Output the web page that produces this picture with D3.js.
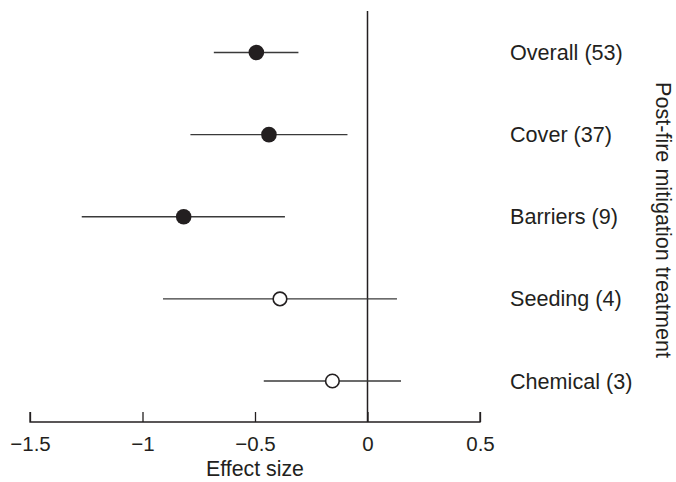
<!DOCTYPE html>
<html>
<head>
<meta charset="utf-8">
<script src="https://cdn.jsdelivr.net/npm/d3@7"></script>
<style>
  body { margin: 0; background: #fff; }
  text { font-family: "Liberation Sans", Arial, sans-serif; fill: #231f20; }
</style>
</head>
<body>
<svg id="chart" width="676" height="482"></svg>
<script>
// treatment groups, top to bottom
var labels = ['Overall (53)', 'Cover (37)', 'Barriers (9)', 'Seeding (4)', 'Chemical (3)'];
var effect = [-0.494, -0.438, -0.817, -0.389, -0.156];
var ciLow  = [-0.683, -0.787, -1.270, -0.909, -0.461];
var ciHigh = [-0.307, -0.089, -0.367, 0.131, 0.149];
var significant = [true, true, true, false, false];
var xTicks = [-1.5, -1, -0.5, 0, 0.5];

var svg = d3.select('#chart');

var x = d3.scaleLinear().domain([-1.5, 0.5]).range([30, 480]);
var y = d3.scalePoint().domain(labels).range([52.5, 381]);
var axisY = 422;

var rows = labels.map(function(l, i) {
    return {label: l, est: effect[i], lo: ciLow[i], hi: ciHigh[i], sig: significant[i]};
});

// zero reference line
svg.append('line')
    .attr('x1', x(0)).attr('x2', x(0))
    .attr('y1', 11).attr('y2', axisY)
    .attr('stroke', '#231f20').attr('stroke-width', 1.5);

// x axis, ticks pointing up
var axis = svg.append('g')
    .attr('transform', 'translate(0,' + axisY + ')')
    .call(d3.axisBottom(x).tickValues(xTicks).tickSize(-10).tickPadding(14)
        .tickFormat(function(d) { return d3.format('')(d).replace('-', '\u2212'); }));
axis.select('.domain').attr('d', 'M' + x(-1.5) + ',-10V0H' + x(0.5) + 'V-10')
    .attr('stroke', '#231f20').attr('stroke-width', 1.3);
axis.selectAll('.tick line').attr('stroke', '#231f20').attr('stroke-width', 1.3);
axis.selectAll('.tick text')
    .style('font-size', '20.5px')
    .style('font-family', '"Liberation Sans", Arial, sans-serif')
    .attr('fill', '#231f20');

svg.append('text')
    .attr('x', x(-0.5)).attr('y', 476)
    .attr('text-anchor', 'middle')
    .style('font-size', '21.3px')
    .text('Effect size');

// confidence intervals
svg.selectAll('line.ci').data(rows).enter().append('line')
    .attr('class', 'ci')
    .attr('x1', function(d) { return x(d.lo); })
    .attr('x2', function(d) { return x(d.hi); })
    .attr('y1', function(d) { return y(d.label); })
    .attr('y2', function(d) { return y(d.label); })
    .attr('stroke', '#3a3a3a').attr('stroke-width', 1.3);

// point estimates
svg.selectAll('circle.est').data(rows).enter().append('circle')
    .attr('class', 'est')
    .attr('cx', function(d) { return x(d.est); })
    .attr('cy', function(d) { return y(d.label); })
    .attr('r', function(d) { return d.sig ? 7.8 : 6.8; })
    .attr('fill', function(d) { return d.sig ? '#231f20' : '#fff'; })
    .attr('stroke', '#231f20')
    .attr('stroke-width', function(d) { return d.sig ? 0 : 1.6; });

// group labels
svg.selectAll('text.grp').data(rows).enter().append('text')
    .attr('class', 'grp')
    .attr('x', 510)
    .attr('y', function(d) { return y(d.label); })
    .attr('dy', '0.35em')
    .style('font-size', '21.6px')
    .text(function(d) { return d.label; });

svg.append('text')
    .attr('transform', 'translate(655.5,220) rotate(90)')
    .attr('text-anchor', 'middle')
    .style('font-size', '21.6px')
    .text('Post-fire mitigation treatment');
</script>
</body>
</html>
